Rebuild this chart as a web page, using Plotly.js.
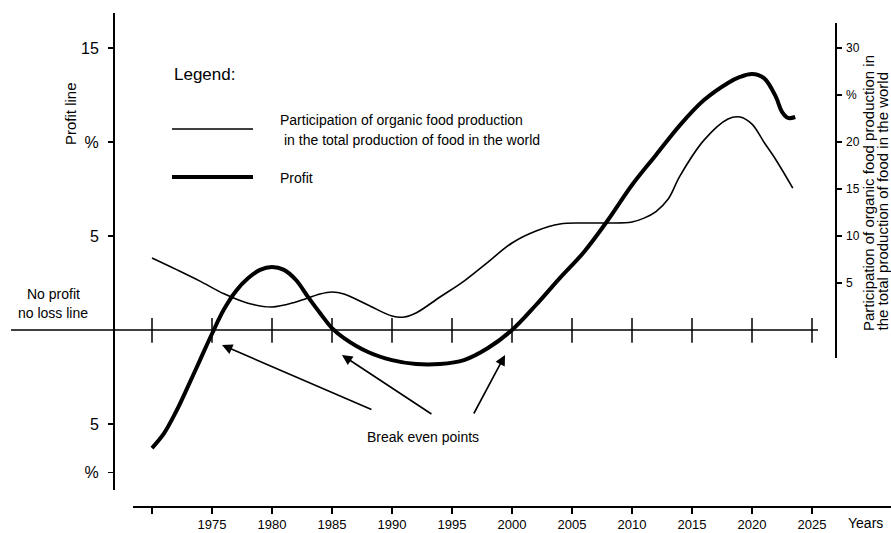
<!DOCTYPE html>
<html>
<head>
<meta charset="utf-8">
<script src="https://cdn.plot.ly/plotly-3.0.1.min.js"></script>
<style>html,body{margin:0;padding:0;background:#fff;}#chart{width:891px;height:533px;}</style>
</head>
<body>
<div id="chart"></div>
<script>
// ---- data ----
const profitYears = [1970, 1971, 1972, 1973, 1974, 1975, 1976, 1977, 1978, 1979, 1980, 1981, 1982, 1983, 1984, 1985, 1986, 1988, 1990, 1992, 1994, 1996, 1998, 2000, 2002, 2004, 2006, 2008, 2010, 2012, 2014, 2016, 2018, 2019, 2020, 2021, 2022, 2022.5, 2023, 2023.6];
const profitValues = [-6.28, -5.5, -4.35, -3.0, -1.6, -0.2, 1.1, 2.08, 2.75, 3.2, 3.35, 3.2, 2.66, 1.76, 0.90, 0.10, -0.43, -1.17, -1.60, -1.81, -1.81, -1.60, -0.96, 0.0, 1.33, 2.77, 4.15, 5.85, 7.71, 9.31, 10.90, 12.23, 13.14, 13.46, 13.62, 13.40, 12.39, 11.6, 11.28, 11.33];

const shareYears = [1970, 1972, 1974, 1976, 1978, 1980, 1982, 1984, 1985, 1986, 1988, 1990, 1991, 1992, 1994, 1996, 1998, 2000, 2002, 2004, 2006, 2008, 2010, 2011, 2012, 2013, 2014, 2016, 2018, 2019, 2020, 2021, 2022, 2023.4];
const shareValues = [7.66, 6.45, 5.2, 3.85, 2.85, 2.45, 2.98, 3.83, 4.04, 3.83, 2.66, 1.49, 1.38, 1.81, 3.51, 5.21, 7.23, 9.26, 10.53, 11.28, 11.38, 11.38, 11.49, 11.9, 12.6, 13.9, 16.4, 20.2, 22.45, 22.66, 21.9, 19.98, 18.09, 15.1];

const yearTicks = [1970, 1975, 1980, 1985, 1990, 1995, 2000, 2005, 2010, 2015, 2020, 2025];
const yearLabels = ['', '1975', '1980', '1985', '1990', '1995', '2000', '2005', '2010', '2015', '2020', '2025'];

const profitTickVals = [15, 10, 5, -5, -7.6];
const profitTickText = ['15', '%', '5', '5', '%'];

const shareTickVals = [30, 25, 20, 15, 10, 5];
const shareTickText = ['30', '%', '20', '15', '10', '5'];

// break-even arrows: head (year, profit) and tail offset in px
const arrowHeadYears = [1975.83, 1985.83, 1999.42];
const arrowHeadValues = [-0.80, -1.33, -1.33];
const arrowTailDx = [151, 91, -32];
const arrowTailDy = [65, 60, 60];

// ---- layout helpers ----
const W = 891, H = 533;
const px = v => v / W;
const py = v => (H - v) / H;
const FONT = 'Liberation Sans, Arial, sans-serif';
const INK = '#000';

const traces = [
  {
    x: shareYears, y: shareValues, xaxis: 'x', yaxis: 'y2',
    type: 'scatter', mode: 'lines',
    line: {color: INK, width: 1.6, shape: 'spline', smoothing: 1},
    hoverinfo: 'skip', showlegend: false
  },
  {
    x: profitYears, y: profitValues, xaxis: 'x', yaxis: 'y',
    type: 'scatter', mode: 'lines',
    line: {color: INK, width: 4, shape: 'spline', smoothing: 1},
    hoverinfo: 'skip', showlegend: false
  }
];

const shapes = [];
// no profit / no loss line
shapes.push({type: 'line', xref: 'paper', yref: 'y', x0: px(11), x1: px(818), y0: 0, y1: 0,
  line: {color: INK, width: 1.6}});
// crossing ticks on zero line
yearTicks.forEach(yr => {
  shapes.push({type: 'line', xref: 'x', yref: 'y', x0: yr, x1: yr, y0: -0.68, y1: 0.64,
    line: {color: INK, width: 1.5}});
});
// legend sample lines
shapes.push({type: 'line', xref: 'paper', yref: 'paper', x0: px(172), x1: px(253), y0: py(129), y1: py(129),
  line: {color: INK, width: 1.3}});
shapes.push({type: 'line', xref: 'paper', yref: 'paper', x0: px(172), x1: px(253), y0: py(177), y1: py(177),
  line: {color: INK, width: 4}});

const annotations = [];
function txt(text, x, y, size, opts) {
  annotations.push(Object.assign({
    text: text, xref: 'paper', yref: 'paper', x: px(x), y: py(y),
    showarrow: false, font: {family: FONT, size: size, color: INK},
    xanchor: 'center', yanchor: 'middle'
  }, opts || {}));
}
txt('Legend:', 172, 74, 17, {xanchor: 'left'});
txt('Participation of organic food production', 278, 120, 14, {xanchor: 'left'});
txt('in the total production of food in the world', 282, 140, 14, {xanchor: 'left'});
txt('Profit', 278, 178, 14, {xanchor: 'left'});
txt('No profit', 53, 294, 14);
txt('no loss line', 53, 313, 14);
txt('Profit line', 70, 114, 15, {textangle: -90});
txt('Participation of organic food production in', 868, 333, 15, {textangle: -90, yanchor: 'bottom'});
txt('the total production of food in the world', 882, 333, 15, {textangle: -90, yanchor: 'bottom'});
txt('Years', 865, 523, 14);
txt('Break even points', 423, 437, 14);

arrowHeadYears.forEach((yr, i) => {
  annotations.push({
    text: '', xref: 'x', yref: 'y', x: yr, y: arrowHeadValues[i],
    ax: arrowTailDx[i], ay: arrowTailDy[i], axref: 'pixel', ayref: 'pixel',
    showarrow: true, arrowhead: 2, arrowsize: 1.3, arrowwidth: 1.6, arrowcolor: INK, standoff: 0
  });
});

const layout = {
  width: W, height: H,
  margin: {l: 0, r: 0, t: 0, b: 0, pad: 0},
  paper_bgcolor: '#fff', plot_bgcolor: 'rgba(0,0,0,0)',
  showlegend: false,
  font: {family: FONT, color: INK},
  xaxis: {
    domain: [px(133), 1],
    range: [1970 - 19 / 12, 1970 + (891 - 152) / 12],
    anchor: 'free', position: py(506),
    showline: true, linecolor: INK, linewidth: 1.6,
    ticks: 'outside', ticklen: 6, tickwidth: 1.2, tickcolor: INK,
    tickvals: yearTicks, ticktext: yearLabels,
    tickfont: {family: FONT, size: 13, color: INK},
    showgrid: false, zeroline: false, fixedrange: true
  },
  yaxis: {
    domain: [py(490), py(13)],
    range: [-(490 - 330) / 18.8, (330 - 13) / 18.8],
    anchor: 'free', position: px(113),
    showline: true, linecolor: INK, linewidth: 1.6,
    ticks: 'outside', ticklen: 5, tickwidth: 1.2, tickcolor: INK,
    tickvals: profitTickVals, ticktext: profitTickText,
    tickfont: {family: FONT, size: 16, color: INK},
    ticklabelstandoff: 6,
    showgrid: false, zeroline: false, fixedrange: true
  },
  yaxis2: {
    domain: [py(358), py(23)],
    range: [-(358 - 330) / 9.4, (330 - 23) / 9.4],
    anchor: 'free', position: px(835), side: 'right',
    showline: true, linecolor: INK, linewidth: 1.6,
    ticks: 'outside', ticklen: 5, tickwidth: 1.2, tickcolor: INK,
    tickvals: shareTickVals, ticktext: shareTickText,
    tickfont: {family: FONT, size: 12, color: INK},
    ticklabelstandoff: 2,
    showgrid: false, zeroline: false, fixedrange: true
  },
  shapes: shapes,
  annotations: annotations
};

Plotly.newPlot('chart', traces, layout, {staticPlot: true, displayModeBar: false});
</script>
</body>
</html>
